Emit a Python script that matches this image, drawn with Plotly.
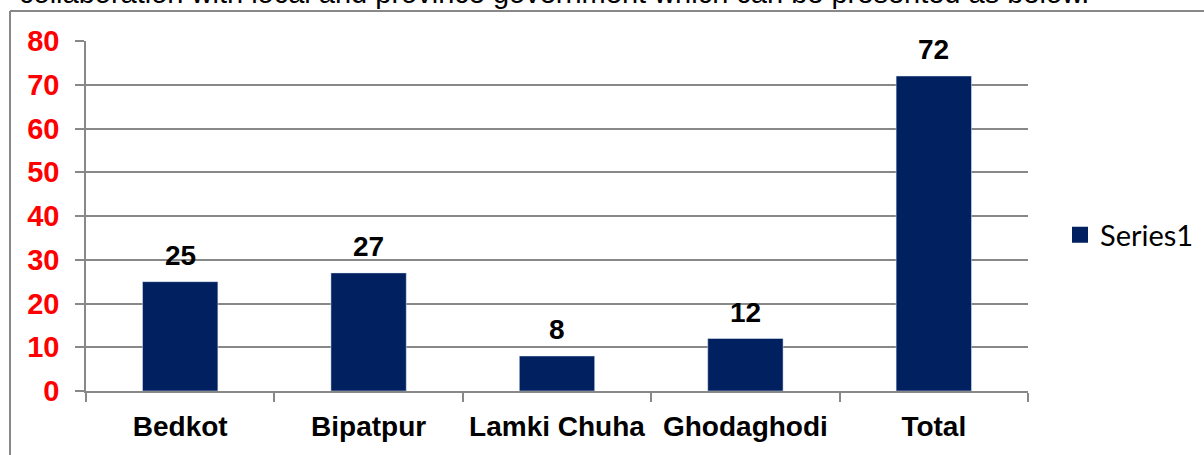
import plotly.graph_objects as go

categories = ["Bedkot", "Bipatpur", "Lamki Chuha", "Ghodaghodi", "Total"]
values = [25, 27, 8, 12, 72]
series_name = "Series1"
y_ticks = [0, 10, 20, 30, 40, 50, 60, 70, 80]
header_text = "collaboration with local and province government which can be presented as below."

BAR = "#002060"
GRID = "#888888"
W, H = 1204, 455
L, R, T, B = 86, 176, 41, 64
pw, ph = W - L - R, H - T - B

def px_x(px):
    return (px - L) / pw

def px_y(py):
    return (H - B - py) / ph

fig = go.Figure()
fig.add_trace(go.Bar(x=categories, y=values, marker_color=BAR, showlegend=False,
                     hoverinfo="x+y"))
fig.add_trace(go.Scatter(x=[None], y=[None], mode="markers", name=series_name,
                         marker=dict(symbol="square", size=18, color=BAR)))

for c, v in zip(categories, values):
    fig.add_annotation(x=c, y=v, text=str(v), showarrow=False, yanchor="bottom",
                       yshift=9,
                       font=dict(family="Liberation Sans", size=28, color="black", weight="bold"))

fig.add_annotation(xref="paper", yref="paper", x=px_x(17), y=px_y(-7), xanchor="left",
                   yanchor="middle", text=header_text, showarrow=False,
                   font=dict(family="Liberation Sans", size=29, color="black"))

fig.update_layout(
    width=W, height=H,
    margin=dict(l=L, r=R, t=T, b=B, autoexpand=False),
    paper_bgcolor="white", plot_bgcolor="white",
    bargap=0.6,
    showlegend=True,
    legend=dict(x=px_x(1060), y=px_y(235), xanchor="left", yanchor="middle",
                font=dict(family="Lato", size=29, color="black"),
                itemsizing="trace", bgcolor="rgba(0,0,0,0)"),
    shapes=[
        dict(type="line", xref="paper", yref="paper", x0=px_x(10), x1=px_x(10),
             y0=px_y(11), y1=px_y(470), line=dict(color=GRID, width=2)),
        dict(type="line", xref="paper", yref="paper", x0=px_x(10), x1=px_x(1220),
             y0=px_y(11), y1=px_y(11), line=dict(color=GRID, width=2)),
    ],
)
fig.update_xaxes(
    type="category", showgrid=False, showline=True, linecolor=GRID, linewidth=1.5,
    ticks="outside", tickson="boundaries", ticklen=9, tickcolor=GRID, tickwidth=1.5,
    automargin=False, ticklabelstandoff=10,
    tickfont=dict(family="Liberation Sans", size=28, color="black", weight="bold"),
)
fig.update_yaxes(
    range=[0, 80], tickvals=y_ticks, showgrid=True, gridcolor=GRID, gridwidth=1.5,
    showline=True, linecolor=GRID, linewidth=1.5, ticks="outside", ticklen=9,
    tickcolor=GRID, tickwidth=1.5, zeroline=False, automargin=False,
    ticklabelstandoff=10,
    tickfont=dict(family="Liberation Sans", size=29, color="red", weight="bold"),
)

fig.write_html("out.html", config={"displayModeBar": False},
               post_script="document.body.style.margin='0';document.body.style.overflow='hidden';")
